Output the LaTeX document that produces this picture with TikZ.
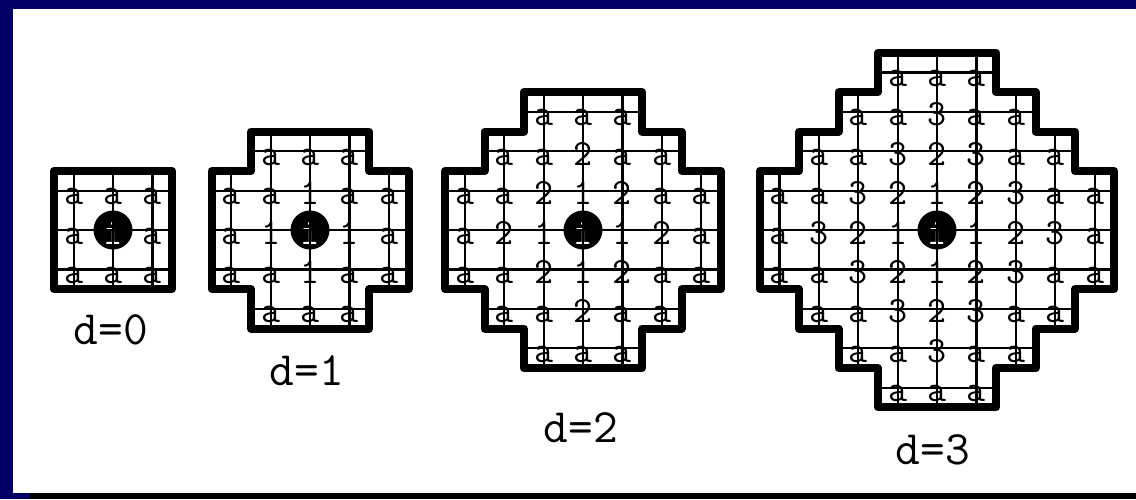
\documentclass[tikz,border=0pt]{standalone}
\usepackage{tikz}

\definecolor{slidenavy}{RGB}{2,0,100}

\begin{document}
\begin{tikzpicture}[
		x=0.5pt, y=-0.5pt,
		gridline/.style={line width=1.1pt},
		rim/.style={line width=4pt, line join=round},
		cell/.style={font=\fontsize{18.5}{18.5}\selectfont\ttfamily, inner sep=0pt, anchor=base, yshift=-7pt},
		hub/.style={circle, fill=black, minimum size=19.5pt, inner sep=0pt},
		caption/.style={font=\fontsize{24}{24}\selectfont\ttfamily, inner sep=0pt}
		]
		
		% Slide frame
		\useasboundingbox (0,0) rectangle (1136,499);
		\fill[slidenavy] (0,0) rectangle (1136,499);
		\fill[white] (13,9) rectangle (1136,493);
		\fill[black] (29,493) rectangle (1136,499);
		
		% Neighbourhoods d=0..3
		\foreach \dist/\cx/\lx/\ly in {0/113/111/330, 1/310/307/371, 2/583/581/428, 3/937/933/450} {
			\pgfmathtruncatemacro\reach{\dist+1}
			\begin{scope}[shift={(\cx,230)}, x=19.7pt, y=-19.7pt]
				% cell labels
				\foreach \row in {-\reach,...,\reach} {
					\pgfmathtruncatemacro\half{min(\reach,\reach+1-abs(\row))}
					\foreach \col in {-\half,...,\half} {
						\pgfmathtruncatemacro\val{abs(\col)+abs(\row)}
						\pgfmathtruncatemacro\ci{\col+\reach}
						\pgfmathtruncatemacro\rj{\row+\reach}
						\ifnum\val=0
							\node[hub] (hub\dist) at (0,0) {};
							\node[cell, text=white] (cell\dist-\ci-\rj) at (0,0) {i};
						\else
							\ifnum\val>\dist
								\node[cell] (cell\dist-\ci-\rj) at (\col,\row) {a};
							\else
								\node[cell] (cell\dist-\ci-\rj) at (\col,\row) {\val};
							\fi
						\fi
					}
				}
				% grid lines
				\foreach \k in {-\reach,...,\reach} {
					\pgfmathsetmacro\half{min(\reach,\reach+1-abs(\k))+0.5}
					\draw[gridline] (-\half,\k) -- (\half,\k);
					\draw[gridline] (\k,-\half) -- (\k,\half);
				}
				% outline
				\draw[rim] (-1.5,-\reach-0.5)
				\foreach \row [evaluate=\row as \half using {min(\reach,\reach+1-abs(\row))+0.5}] in {-\reach,...,\reach} {
					-- (\half,\row-0.5) -- (\half,\row+0.5)
				}
				\foreach \row [evaluate=\row as \back using {0-\row}, evaluate=\row as \half using {min(\reach,\reach+1-abs(\row))+0.5}] in {-\reach,...,\reach} {
					-- (-\half,\back+0.5) -- (-\half,\back-0.5)
				}
				-- cycle;
			\end{scope}
			\node[caption] (label\dist) at (\lx,\ly) {d=\dist};
		}
		
	\end{tikzpicture}
\end{document}
